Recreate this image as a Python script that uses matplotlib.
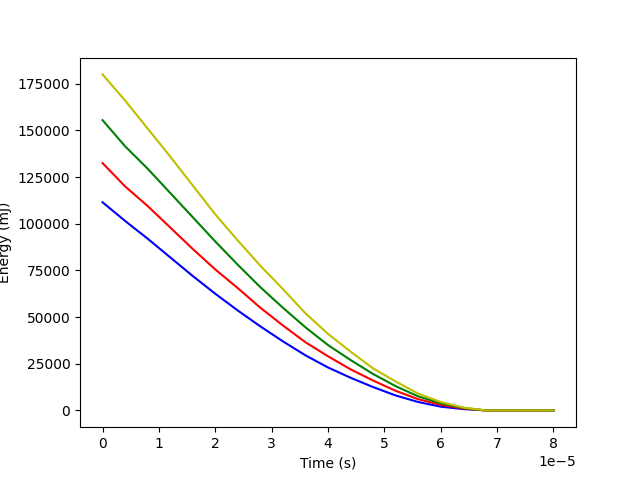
import numpy as np
import matplotlib
matplotlib.use("Agg")
import matplotlib.pyplot as plt

time = np.arange(21) * 0.4e-5

blue = [111500, 101500, 92000, 82000, 72000, 62500, 53500, 45000, 37000, 29500,
        23000, 17500, 12500, 8000, 4500, 2000, 700, 0, 0, 0, 0]
red = [132500, 120000, 109500, 98000, 86500, 75500, 65500, 55000, 45500, 36500,
       29000, 22000, 16000, 10500, 6000, 3000, 1000, 0, 0, 0, 0]
green = [155500, 141500, 129500, 116500, 103500, 90500, 78000, 66000, 55000, 44500,
         35000, 27000, 19500, 13000, 7500, 3800, 1300, 0, 0, 0, 0]
yellow = [180000, 166000, 151000, 136000, 120500, 105000, 91000, 77500, 65000, 52000,
          41000, 31500, 22500, 15500, 9000, 4500, 1500, 0, 0, 0, 0]

fig, ax = plt.subplots(figsize=(6.4, 4.8), dpi=100)
ax.plot(time, blue, 'b')
ax.plot(time, red, 'r')
ax.plot(time, green, 'g')
ax.plot(time, yellow, 'y')
ax.set_xlabel("Time (s)")
ax.set_ylabel("Energy (mJ)")
fig.savefig("out.png")
